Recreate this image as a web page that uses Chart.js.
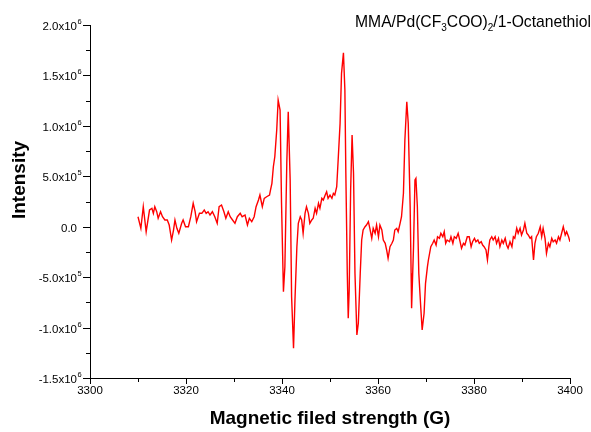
<!DOCTYPE html>
<html>
<head>
<meta charset="utf-8">
<title>EPR spectrum</title>
<script src="https://cdn.jsdelivr.net/npm/chart.js@4/dist/chart.umd.min.js"></script>
<style>
  html, body { margin: 0; padding: 0; background: #fff; }
  canvas { display: block; }
</style>
</head>
<body>
<canvas id="eprChart" width="591" height="432"></canvas>
<script>
// ==========================================
// Data
// ==========================================

// magnetic field, G
const fieldG = [
  3310.0, 3310.6, 3311.1, 3311.7, 3312.4, 3312.9, 3313.2, 3313.5, 3313.9, 3314.2,
  3314.7, 3315.1, 3315.6, 3316.1, 3316.5, 3317.0, 3317.4, 3317.7, 3318.1, 3318.5,
  3319.1, 3319.4, 3319.9, 3320.5, 3321.0, 3321.5, 3321.9, 3322.2, 3322.8, 3323.3,
  3323.8, 3324.2, 3324.6, 3325.0, 3325.5, 3326.0, 3326.5, 3326.9, 3327.4, 3327.9,
  3328.3, 3328.8, 3329.2, 3329.7, 3330.2, 3330.7, 3331.3, 3331.7, 3332.3, 3332.8,
  3333.2, 3333.7, 3334.2, 3334.6, 3335.1, 3335.4, 3335.9, 3336.3, 3336.8, 3337.4,
  3337.6, 3337.9, 3338.2, 3338.5, 3338.9, 3339.2, 3339.6, 3339.9, 3340.3, 3340.6,
  3341.0, 3341.3, 3341.7, 3342.0, 3342.4, 3342.7, 3343.1, 3343.4, 3343.8, 3344.1,
  3344.4, 3344.8, 3345.1, 3345.5, 3345.8, 3346.2, 3346.5, 3346.9, 3347.2, 3347.6,
  3347.9, 3348.3, 3348.6, 3349.0, 3349.3, 3349.6, 3350.0, 3350.4, 3350.7, 3351.0,
  3351.4, 3351.7, 3352.1, 3352.4, 3352.8, 3353.1, 3353.3, 3353.6, 3353.8, 3354.0,
  3354.3, 3354.6, 3354.9, 3355.2, 3355.6, 3355.9, 3356.3, 3356.6, 3356.9, 3357.3,
  3357.6, 3358.0, 3358.3, 3358.7, 3359.0, 3359.4, 3359.7, 3360.1, 3360.4, 3360.8,
  3361.1, 3361.5, 3361.8, 3362.1, 3362.5, 3362.9, 3363.2, 3363.5, 3363.9, 3364.2,
  3364.6, 3364.9, 3365.3, 3365.6, 3366.0, 3366.3, 3366.7, 3366.9, 3367.0, 3367.4,
  3367.7, 3367.9, 3368.2, 3368.5, 3368.9, 3369.2, 3369.6, 3369.9, 3370.3, 3370.5,
  3371.0, 3371.4, 3371.7, 3372.1, 3372.4, 3372.8, 3373.1, 3373.5, 3373.8, 3374.1,
  3374.4, 3374.9, 3375.2, 3375.6, 3375.9, 3376.3, 3376.7, 3377.1, 3377.4, 3377.8,
  3378.1, 3378.6, 3379.0, 3379.4, 3379.7, 3380.1, 3380.4, 3380.8, 3381.1, 3381.5,
  3381.8, 3382.1, 3382.5, 3382.8, 3383.1, 3383.3, 3383.7, 3384.0, 3384.4, 3384.7,
  3385.1, 3385.4, 3385.8, 3386.1, 3386.5, 3386.8, 3387.1, 3387.5, 3387.9, 3388.2,
  3388.5, 3388.9, 3389.2, 3389.6, 3389.9, 3390.3, 3390.6, 3391.0, 3391.3, 3391.7,
  3392.0, 3392.4, 3392.7, 3393.0, 3393.4, 3393.8, 3394.1, 3394.4, 3394.8, 3395.1,
  3395.5, 3395.8, 3396.2, 3396.5, 3396.9, 3397.2, 3397.6, 3397.9, 3398.6, 3399.0,
  3399.3, 3399.7, 3400.0
];

// signal intensity, a.u.
const intensity = [
  99000, -15900, 198200, -49600, 165500, 182400, 132800, 198200, 148700, 83300,
  148700, 99100, 66400, 66400, 16800, -131800, -32700, 66400, -15900, -65400,
  33700, 66400, 0, 0, 99100, 231900, 148700, 49600, 132800, 132800,
  165500, 132800, 148700, 116000, 148700, 99100, 33700, 198200, 215100, 148700,
  83300, 148700, 99100, 66400, 33700, 99100, 132800, 99100, 116000, 16800,
  83300, 49600, 99100, 198200, 264600, 314200, 198200, 281500, 297300, 314200,
  363700, 430100, 594700, 693800, 958400, 1255700, 1156600, 234900, -644200, -396400,
  631300, 1139800, 462800, -693800, -1205200, -726500, -198200, 33700, 99100, 66400,
  -65400, 132800, 198200, 132800, 33700, 66400, 83300, 182400, 132800, 231900,
  182400, 281500, 264600, 314200, 346900, 281500, 314200, 281500, 331000, 314200,
  396400, 661100, 1024800, 1520300, 1724500, 1354800, 532200, -461900, -907900, -627400,
  363700, 908800, 529200, -458900, -1073300, -957400, -461900, -131800, -32700, 0,
  16800, 49600, -15900, -115000, -15900, -65400, 16800, -99100, 16800, -32700,
  -131800, -164500, -230900, -313200, -198200, -164500, -131800, -32700, -15900, -49600,
  33700, 99100, 331000, 859300, 1238900, 1024800, 198200, -461900, -808700, -198200,
  462800, 479700, 198200, -461900, -792900, -1023800, -858300, -561000, -396400, -330000,
  -198200, -164500, -131800, -181400, -99100, -115000, -65400, -99100, -49600, -164500,
  -131800, -148700, -99100, -164500, -99100, -115000, -65400, -148700, -214100, -164500,
  -181400, -99100, -99100, -198200, -148700, -115000, -148700, -131800, -164500, -148700,
  -181400, -198200, -230900, -330000, -198200, -131800, -99100, -131800, -99100, -164500,
  -115000, -198200, -131800, -164500, -115000, -181400, -214100, -148700, -198200, -99100,
  -115000, -15900, -65400, -15900, -82300, -32700, 33700, -65400, -82300, -115000,
  -99100, -330000, -164500, -99100, -65400, 0, -99100, -15900, -115000, -263600,
  -164500, -198200, -115000, -148700, -131800, -164500, -99100, -131800, 0, -82300,
  -49600, -99100, -148700
];

// axis ranges and tick steps
const X_MIN = 3300, X_MAX = 3400, X_MAJOR = 20, X_MINOR = 10;
const Y_MIN = -1.5e6, Y_MAX = 2.0e6, Y_MAJOR = 5e5, Y_MINOR = 2.5e5;

const SAMPLE_LABEL = ['MMA/Pd(CF', '3', 'COO)', '2', '/1-Octanethiol']; // odd parts are subscripts

const FONT = '"Liberation Sans", Arial, Helvetica, sans-serif';

// ==========================================
// Helpers
// ==========================================

// 5e5 -> ['5.0x10', '5'], 0 -> ['0.0', '']
function sciParts(v) {
  if (v === 0) return ['0.0', ''];
  const exp = Math.floor(Math.log10(Math.abs(v)) + 1e-9);
  const mant = v / Math.pow(10, exp);
  return [mant.toFixed(1) + 'x10', String(exp)];
}

// draws tick marks, y labels with superscripts, y title and sample label
const decorPlugin = {
  id: 'decor',
  afterDraw(chart) {
    const ctx = chart.ctx;
    const xs = chart.scales.x;
    const ys = chart.scales.y;
    const area = chart.chartArea;

    ctx.save();
    ctx.strokeStyle = '#000';
    ctx.lineWidth = 1;

    // x ticks (down)
    for (let v = X_MIN; v <= X_MAX + 1e-6; v += X_MINOR) {
      const px = Math.round(xs.getPixelForValue(v)) + 0.5;
      const len = (Math.round(v - X_MIN) % X_MAJOR === 0) ? 6 : 4;
      ctx.beginPath();
      ctx.moveTo(px, area.bottom);
      ctx.lineTo(px, area.bottom + len);
      ctx.stroke();
    }

    // y ticks (left) + labels
    for (let v = Y_MIN; v <= Y_MAX + 1; v += Y_MINOR) {
      const py = Math.round(ys.getPixelForValue(v)) + 0.5;
      const major = Math.round((v - Y_MIN) / Y_MINOR) % 2 === 0;
      const len = major ? 7 : 4;
      ctx.beginPath();
      ctx.moveTo(area.left - len, py);
      ctx.lineTo(area.left, py);
      ctx.stroke();

      if (major) {
        const [main, sup] = sciParts(Math.round(v));
        ctx.fillStyle = '#000';
        ctx.textBaseline = 'middle';
        ctx.font = '11.5px ' + FONT;
        ctx.textAlign = 'right';
        ctx.fillText(main, area.left - 13, py + 1);
        if (sup) {
          ctx.font = '7.5px ' + FONT;
          ctx.textAlign = 'left';
          ctx.fillText(sup, area.left - 12.5, py - 4);
        }
      }
    }

    // y axis title
    ctx.save();
    ctx.translate(20, 180);
    ctx.rotate(-Math.PI / 2);
    ctx.font = 'bold 19px ' + FONT;
    ctx.fillStyle = '#000';
    ctx.textAlign = 'center';
    ctx.textBaseline = 'middle';
    ctx.fillText('Intensity', 0, 0);
    ctx.restore();

    // sample label, top right, with subscripts
    let tx = 355;
    const base = 27;
    ctx.fillStyle = '#000';
    ctx.textAlign = 'left';
    ctx.textBaseline = 'alphabetic';
    SAMPLE_LABEL.forEach((part, i) => {
      const isSub = i % 2 === 1;
      ctx.font = (isSub ? '10px ' : '15.7px ') + FONT;
      ctx.fillText(part, tx, isSub ? base + 4 : base);
      tx += ctx.measureText(part).width;
    });

    ctx.restore();
  }
};

// ==========================================
// Chart
// ==========================================

const ctx = document.getElementById('eprChart').getContext('2d');

new Chart(ctx, {
  type: 'line',
  data: {
    datasets: [{
      label: 'EPR',
      data: fieldG.map((g, i) => ({ x: g, y: intensity[i] })),
      borderColor: '#ff0000',
      borderWidth: 1.4,
      pointRadius: 0,
      tension: 0,
      fill: false
    }]
  },
  options: {
    responsive: false,
    animation: false,
    devicePixelRatio: 1,
    layout: { padding: { top: 25, right: 21, left: 0, bottom: 0 } },
    plugins: {
      legend: { display: false },
      tooltip: { enabled: false }
    },
    scales: {
      x: {
        type: 'linear',
        min: X_MIN,
        max: X_MAX,
        afterFit: s => { s.height = 54; },
        ticks: {
          stepSize: X_MAJOR,
          color: '#000',
          font: { family: FONT, size: 11.5 },
          padding: 6,
          maxRotation: 0,
          callback: v => String(v)
        },
        grid: { drawOnChartArea: false, drawTicks: false },
        border: { display: true, color: '#000', width: 1 },
        title: {
          display: true,
          text: 'Magnetic filed strength (G)',
          color: '#000',
          font: { family: FONT, size: 19, weight: 'bold' },
          padding: { top: 0, bottom: 2 }
        }
      },
      y: {
        type: 'linear',
        min: Y_MIN,
        max: Y_MAX,
        afterFit: s => { s.width = 90; },
        ticks: { stepSize: Y_MAJOR, display: false },
        grid: { drawOnChartArea: false, drawTicks: false },
        border: { display: true, color: '#000', width: 1 }
      }
    }
  },
  plugins: [decorPlugin]
});
</script>
</body>
</html>
